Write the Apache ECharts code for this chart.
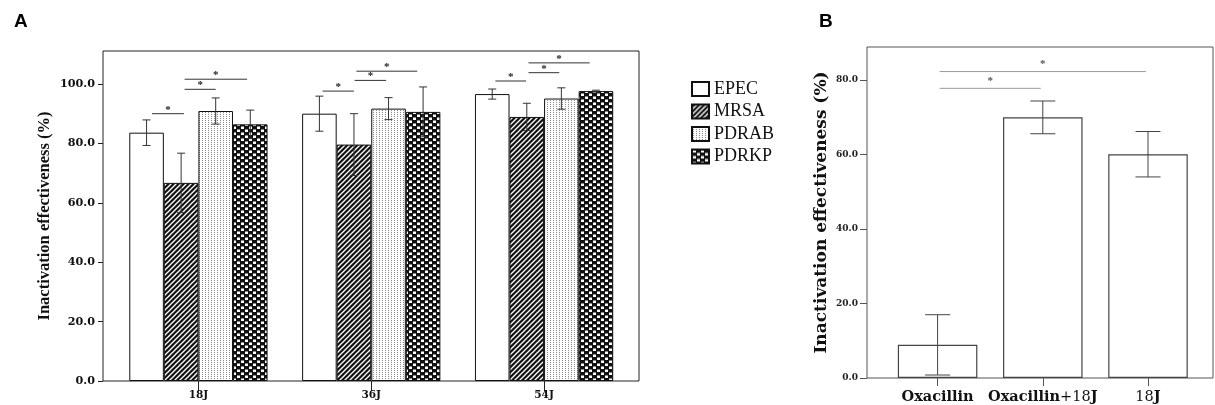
<!DOCTYPE html>
<html><head><meta charset="utf-8">
<script src="https://cdn.jsdelivr.net/npm/echarts@6/dist/echarts.min.js"></script>
<style>html,body{margin:0;padding:0;background:#fff}#c{width:1215px;height:405px}</style>
</head><body><div id="c"></div>
<script>
// ---------- Panel A data ----------
const catsA = ['18J', '36J', '54J'];
const namesA = ['EPEC', 'MRSA', 'PDRAB', 'PDRKP'];
const epec = [83.6, 90.0, 96.6];
const epecErr = [4.3, 5.9, 1.7];
const mrsa = [66.7, 79.6, 88.9];
const mrsaErr = [10.0, 10.4, 4.6];
const pdrab = [90.9, 91.7, 95.1];
const pdrabErr = [4.4, 3.7, 3.6];
const pdrkp = [86.4, 90.6, 97.6];
const pdrkpErr = [4.8, 8.4, 0.3];
const yTicksA = [0, 20, 40, 60, 80, 100];
const yMaxA = 111.1;
// significance brackets (category, start/end in bar widths from group centre, height)
const sigCatA = [0, 0, 0, 1, 1, 1, 2, 2, 2];
const sigFromA = [-1.34, -0.40, -0.40, -1.41, -0.48, -0.43, -1.41, -0.45, -0.45];
const sigToA = [-0.42, 0.50, 1.41, -0.50, 0.43, 1.33, -0.52, 0.44, 1.32];
const sigYA = [90.0, 98.2, 101.6, 97.6, 101.2, 104.3, 101.0, 103.8, 107.1];

// ---------- Panel B data ----------
const catsB = ['Oxacillin', 'Oxacillin+18J', '18J'];
const valsB = [8.9, 70.0, 60.1];
const errB = [8.1, 4.4, 6.1];
const yTicksB = [0, 20, 40, 60, 80];
const yMaxB = 88.9;
const sigFromB = [0, 0];
const sigToB = [1, 2];
const sigYB = [77.8, 82.3];

// ---------- patterns ----------
function tile(w, h, draw) {
  const c = document.createElement('canvas');
  c.width = w; c.height = h;
  draw(c.getContext('2d'), w, h);
  return { image: c, repeat: 'repeat' };
}
const patHatch = tile(5, 5, (g, w, h) => {
  g.fillStyle = '#111'; g.fillRect(0, 0, w, h);
  g.strokeStyle = '#fff'; g.lineWidth = 1.3;
  for (const k of [-5, 0, 5]) { g.beginPath(); g.moveTo(k - 1, h + 1); g.lineTo(k + w + 1, -1); g.stroke(); }
});
const patDots = tile(3, 2, (g, w, h) => {
  g.fillStyle = '#fff'; g.fillRect(0, 0, w, h);
  g.fillStyle = '#8a8a8a'; g.fillRect(1, 0, 1, 1);
});
const patCheck = tile(8, 6, (g, w, h) => {
  g.fillStyle = '#111'; g.fillRect(0, 0, w, h);
  g.fillStyle = '#fff'; g.fillRect(1, 0.5, 3, 2.5); g.fillRect(5, 3.5, 3, 2.5);
});
const fillsA = ['#ffffff', patHatch, patDots, patCheck];
const valsA = [epec, mrsa, pdrab, pdrkp];
const errsA = [epecErr, mrsaErr, pdrabErr, pdrkpErr];

// ---------- render helpers ----------
function errRender(nSeries, barFrac, capW, color) {
  return function (params, api) {
    const ci = api.value(0), k = api.value(1), m = api.value(2), e = api.value(3);
    const band = api.size([1, 0])[0];
    const bw = band * barFrac / nSeries;
    const c = api.coord([ci, m]);
    const x = c[0] + (k - (nSeries - 1) / 2) * bw;
    const yt = api.coord([ci, m + e])[1], yb = api.coord([ci, Math.max(0, m - e)])[1];
    const st = { stroke: color, lineWidth: 1 };
    return { type: 'group', children: [
      { type: 'line', shape: { x1: x, y1: yt, x2: x, y2: yb }, style: st },
      { type: 'line', shape: { x1: x - capW / 2, y1: yt, x2: x + capW / 2, y2: yt }, style: st },
      { type: 'line', shape: { x1: x - capW / 2, y1: yb, x2: x + capW / 2, y2: yb }, style: st }
    ] };
  };
}
function sigRenderA(params, api) {
  const ci = api.value(0), f = api.value(1), t = api.value(2), y = api.value(3);
  const band = api.size([1, 0])[0];
  const bw = band * 0.8 / 4;
  const c = api.coord([ci, y]);
  const x1 = c[0] + f * bw, x2 = c[0] + t * bw;
  return { type: 'group', children: [
    { type: 'line', shape: { x1: x1, y1: c[1], x2: x2, y2: c[1] }, style: { stroke: '#333', lineWidth: 1 } },
    { type: 'text', x: (x1 + x2) / 2, y: c[1] - 4, style: { text: '*', fill: '#222', font: 'bold 11px "Liberation Serif"', align: 'center', verticalAlign: 'middle' } }
  ] };
}
function sigRenderB(params, api) {
  const f = api.value(0), t = api.value(1), y = api.value(2);
  const p1 = api.coord([f, y]), p2 = api.coord([t, y]);
  return { type: 'group', children: [
    { type: 'line', shape: { x1: p1[0] + 2, y1: p1[1], x2: p2[0] - 2, y2: p1[1] }, style: { stroke: '#999', lineWidth: 1 } },
    { type: 'text', x: (p1[0] + p2[0]) / 2, y: p1[1] - 7, style: { text: '*', fill: '#555', font: 'bold 11px "Liberation Serif"', align: 'center', verticalAlign: 'middle' } }
  ] };
}

// ---------- build data ----------
const errDataA = [];
for (let k = 0; k < 4; k++) for (let i = 0; i < catsA.length; i++) errDataA.push([i, k, valsA[k][i], errsA[k][i]]);
const sigDataA = sigCatA.map((c, i) => [c, sigFromA[i], sigToA[i], sigYA[i]]);
const errDataB = catsB.map((c, i) => [i, 0, valsB[i], errB[i]]);
const sigDataB = sigFromB.map((f, i) => [f, sigToB[i], sigYB[i]]);

const serif = 'DejaVu Serif';
const chart = echarts.init(document.getElementById('c'), null, { renderer: 'canvas' });
const option = {
  animation: false,
  backgroundColor: '#fff',
  title: [
    { text: 'A', left: 9, top: 7, textStyle: { fontFamily: 'Liberation Sans', fontWeight: 'bold', fontSize: 19, color: '#000' } },
    { text: 'B', left: 814, top: 7, textStyle: { fontFamily: 'Liberation Sans', fontWeight: 'bold', fontSize: 19, color: '#000' } }
  ],
  legend: {
    data: namesA, orient: 'vertical', left: 691, top: 80, padding: 0,
    itemWidth: 17, itemHeight: 14, itemGap: 4.5, icon: 'rect',
    textStyle: { fontFamily: 'Liberation Serif', fontSize: 18, color: '#111', lineHeight: 16 }
  },
  grid: [
    { left: 103, top: 51, width: 536, height: 330, show: true, borderColor: '#222', borderWidth: 1, backgroundColor: 'transparent' },
    { left: 112, top: 51, width: 518.5, height: 330 },
    { left: 867, top: 47, width: 346, height: 331, show: true, borderColor: '#555', borderWidth: 1, backgroundColor: 'transparent' },
    { left: 885, top: 47, width: 315.6, height: 331 }
  ],
  xAxis: [
    { gridIndex: 0, type: 'value', show: false, min: 0, max: 1 },
    { gridIndex: 1, type: 'category', data: catsA, axisLine: { show: false },
      axisTick: { show: true, alignWithLabel: true, length: 10, lineStyle: { color: '#222' } },
      axisLabel: { interval: 0, margin: 9, fontFamily: serif, fontWeight: 'bold', fontSize: 10.5, color: '#111' } },
    { gridIndex: 2, type: 'value', show: false, min: 0, max: 1 },
    { gridIndex: 3, type: 'category', data: catsB, axisLine: { show: false },
      axisTick: { show: true, interval: 0, alignWithLabel: true, length: 8, lineStyle: { color: '#555' } },
      axisLabel: { interval: 0, hideOverlap: false, margin: 12, color: '#111',
        formatter: v => v.replace(/([A-Za-z]+)/g, '{b|$1}').replace(/([+0-9]+)/g, '{n|$1}'),
        rich: { b: { fontFamily: serif, fontWeight: 'bold', fontSize: 14.5, color: '#111' },
                n: { fontFamily: serif, fontWeight: 'normal', fontSize: 14.5, color: '#111' } } } }
  ],
  yAxis: [
    { gridIndex: 0, type: 'value', min: 0, max: yMaxA, splitLine: { show: false }, axisLine: { show: false },
      axisTick: { show: true, length: 5, customValues: yTicksA, lineStyle: { color: '#222' } },
      axisLabel: { customValues: yTicksA, margin: 8, formatter: v => v.toFixed(1), fontFamily: serif, fontWeight: 'bold', fontSize: 11.2, color: '#111' },
      name: 'Inactivation effectiveness (%)', nameLocation: 'middle', nameGap: 50,
      nameTextStyle: { fontFamily: 'Liberation Serif', fontWeight: 'bold', fontSize: 16.5, color: '#111' } },
    { gridIndex: 1, type: 'value', min: 0, max: yMaxA, show: false, splitLine: { show: false } },
    { gridIndex: 2, type: 'value', min: 0, max: yMaxB, splitLine: { show: false }, axisLine: { show: false },
      axisTick: { show: true, length: 7, customValues: yTicksB, lineStyle: { color: '#555' } },
      axisLabel: { customValues: yTicksB, margin: 9, formatter: v => v.toFixed(1), fontFamily: serif, fontWeight: 'bold', fontSize: 9, color: '#222' },
      name: 'Inactivation effectiveness (%)', nameLocation: 'middle', nameGap: 37,
      nameTextStyle: { fontFamily: serif, fontWeight: 'bold', fontSize: 17, color: '#111' } },
    { gridIndex: 3, type: 'value', min: 0, max: yMaxB, show: false, splitLine: { show: false } }
  ],
  series: [
    ...namesA.map((n, k) => ({
      name: n, type: 'bar', xAxisIndex: 1, yAxisIndex: 1, data: valsA[k],
      barGap: '0%', barCategoryGap: '20%',
      itemStyle: { color: fillsA[k], borderColor: '#111', borderWidth: 1 }
    })),
    { type: 'custom', xAxisIndex: 1, yAxisIndex: 1, renderItem: errRender(4, 0.8, 8, '#333'), data: errDataA, z: 5, encode: { x: 0, y: 2 } },
    { type: 'custom', xAxisIndex: 1, yAxisIndex: 1, renderItem: sigRenderA, data: sigDataA, z: 5, encode: { x: 0, y: 3 } },
    { name: 'B', type: 'bar', xAxisIndex: 3, yAxisIndex: 3, data: valsB, barCategoryGap: '24.4%',
      itemStyle: { color: '#fff', borderColor: '#444', borderWidth: 1.2 } },
    { type: 'custom', xAxisIndex: 3, yAxisIndex: 3, renderItem: errRender(1, 0.756, 25, '#444'), data: errDataB, z: 5, encode: { x: 0, y: 2 } },
    { type: 'custom', xAxisIndex: 3, yAxisIndex: 3, renderItem: sigRenderB, data: sigDataB, z: 5, encode: { x: 0, y: 2 } }
  ]
};
chart.setOption(option);
</script></body></html>
